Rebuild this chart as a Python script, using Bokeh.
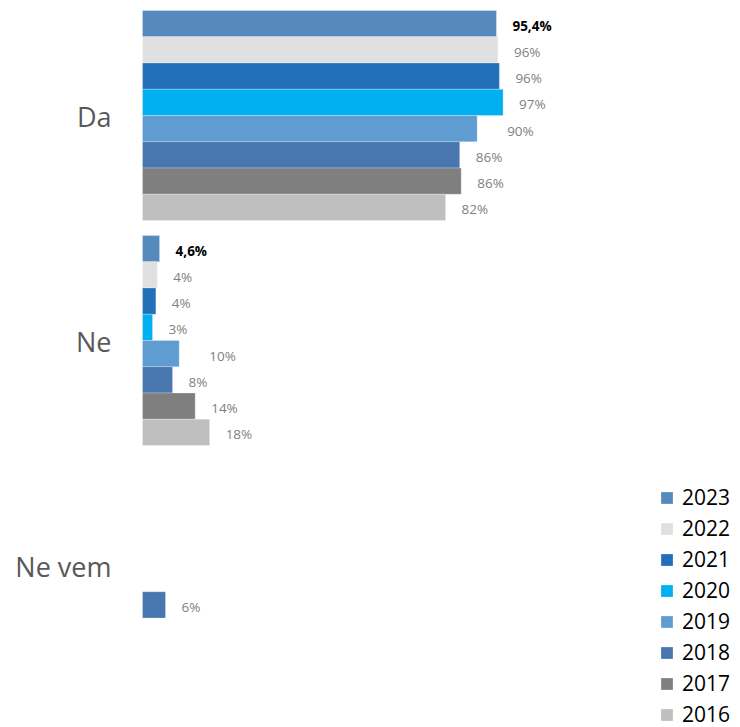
import numpy as np
from bokeh.plotting import figure
from bokeh.models import Range1d, Legend, LegendItem, ColumnDataSource
from bokeh.core.properties import value
from bokeh.embed import file_html
from bokeh.resources import INLINE

# ---- data ----
categories = ["Da", "Ne", "Ne vem"]
years = ["2023", "2022", "2021", "2020", "2019", "2018", "2017", "2016"]
v2023 = [95.4, 4.6]
v2022 = [95.8, 4.0]
v2021 = [96.2, 3.6]
v2020 = [97.2, 2.7]
v2019 = [90.2, 9.9]
v2018 = [85.5, 8.1, 6.2]
v2017 = [85.9, 14.2]
v2016 = [81.7, 18.1]
l2023 = ["95,4%", "4,6%"]
l2022 = ["96%", "4%"]
l2021 = ["96%", "4%"]
l2020 = ["97%", "3%"]
l2019 = ["90%", "10%"]
l2018 = ["86%", "8%", "6%"]
l2017 = ["86%", "14%"]
l2016 = ["82%", "18%"]

values = [v2023, v2022, v2021, v2020, v2019, v2018, v2017, v2016]
labels = [l2023, l2022, l2021, l2020, l2019, l2018, l2017, l2016]
colors = ["#5689BC", "#E0E0E0", "#2370BA", "#00B0F0", "#5F9CD1", "#4876AF", "#7F7F7F", "#BFBFBF"]
label_offsets = [16, 16, 16, 16, 30, 16, 16, 16]

FONT = "Open Sans"
W, H = 740, 727
PX_PER_UNIT = 3.71
X0 = 142  # px position of x=0 within figure
BAND = 225.0  # px per category
CAT0 = 115.0  # px position of first category centre
bar_h = 26.25 / BAND

p = figure(width=W, height=H, output_backend="svg", toolbar_location=None,
           x_range=Range1d(-X0 / PX_PER_UNIT, (W - X0) / PX_PER_UNIT),
           y_range=Range1d((H - CAT0) / BAND, -CAT0 / BAND),
           x_axis_location=None, y_axis_location=None, min_border=0)
p.outline_line_color = None
p.xgrid.visible = False
p.ygrid.visible = False
p.background_fill_color = "white"
p.border_fill_color = "white"

items = []
n = len(years)
for j, (yr, vals, labs, col, off) in enumerate(zip(years, values, labels, colors, label_offsets)):
    idx = np.arange(len(vals))
    yy = idx + (j - (n - 1) / 2) * bar_h
    src = ColumnDataSource(dict(y=yy, v=vals, lab=labs))
    r = p.hbar(y="y", right="v", left=0, height=bar_h, source=src,
               fill_color=col, line_color="white", line_alpha=0.5, line_width=0.5)
    bold = (j == 0)
    p.text(x="v", y="y", text="lab", source=src, x_offset=off, y_offset=2,
           text_align="left", text_baseline="middle",
           text_font=value(FONT), text_font_size="13.5px",
           text_font_style="bold" if bold else "normal",
           text_color="#000000" if bold else "#7F7F7F")
    items.append(LegendItem(label=yr, renderers=[r]))

csrc = ColumnDataSource(dict(x=[0] * len(categories), y=np.arange(len(categories)), t=categories))
p.text(x="x", y="y", text="t", source=csrc, x_offset=-31, y_offset=1,
       text_align="right", text_baseline="middle",
       text_font=value(FONT), text_font_size="27px", text_color="#595959")

legend = Legend(items=items, location=(659, -1),
                orientation="vertical",
                label_text_font=FONT, label_text_font_size="21px", label_text_color="#000000",
                glyph_width=15, glyph_height=15, label_height=20, label_standoff=8,
                spacing=3, padding=0, margin=0,
                border_line_color=None, background_fill_alpha=0)
p.add_layout(legend)

open("out.html", "w").write(file_html(p, INLINE))
